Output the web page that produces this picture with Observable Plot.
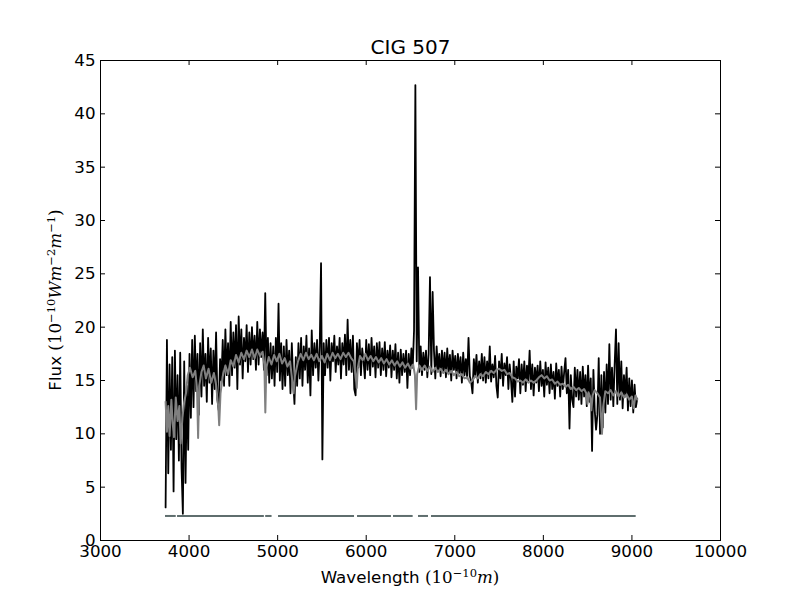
<!DOCTYPE html>
<html><head><meta charset="utf-8">
<script src="https://cdn.jsdelivr.net/npm/d3@7"></script>
<script src="https://cdn.jsdelivr.net/npm/@observablehq/plot@0.6"></script>
<style>body{margin:0;background:#fff} svg{display:block}</style>
</head><body><div id="chart"></div>
<script>
const title = "CIG 507";
const xTicks = [3000, 4000, 5000, 6000, 7000, 8000, 9000, 10000];
const yTicks = [0, 5, 10, 15, 20, 25, 30, 35, 40, 45];

// observed spectrum, sampled from 3735 Å every 15 Å
const specStart = 3735;
const specStep = 15;
const flux = [
  3.1, 18.8, 6.3, 16.5, 8.5, 17.2, 4.6, 17.8, 9.5, 15.5,
  7.5, 17.6, 6.8, 2.5, 16.8, 5.4, 14.5, 8.5, 17.5, 11.5,
  18.8, 12.5, 19.2, 14, 17.5, 11.8, 18.5, 13.5, 19.8, 14.5,
  17.5, 13, 19, 14.8, 18, 12.8, 17.8, 14.2, 19.5, 13.2,
  12.2, 17, 15, 18.8, 14.5, 19.8, 15.5, 18.5, 14.5, 20.5,
  15.5, 19.5, 16.2, 20.2, 14.2, 21, 16.5, 19.8, 15.2, 19,
  16.8, 20.2, 15.8, 19.5, 16.5, 20, 17, 19.2, 16, 20.5,
  16.5, 19.8, 17.2, 19.5, 16, 23.2, 15.5, 19, 14.8, 18.5,
  15.2, 18.2, 14.5, 19, 15.8, 22.2, 15, 18.5, 14.2, 18.2,
  14.5, 18.8, 15.5, 17.8, 13.8, 18.5, 15, 12.8, 17.2, 14.5,
  18.5, 15.2, 19, 14.5, 18.2, 16, 19.2, 14.8, 18, 13.6,
  19.7, 15.5, 18.5, 16.2, 18.8, 15, 18.2, 26, 7.6, 18.5,
  15.5, 18.8, 16.2, 19, 15, 18.5, 16.8, 19.2, 15.8, 18.2,
  16.5, 19, 15.2, 18.5, 16.5, 19.3, 15.5, 20.7, 16, 18.8,
  15.8, 19.2, 14.2, 13.6, 18.5, 16.2, 18.8, 15.5, 18, 16.8,
  15.2, 18.8, 16, 18.4, 15.5, 19, 16.3, 18.2, 15.3, 18.5,
  16.2, 18.6, 15.5, 18, 16, 18.6, 15.4, 17.8, 16.2, 18.3,
  15.3, 17.8, 16, 18.4, 15.2, 17.6, 14.8, 17.9, 15.5, 17.5,
  15.8, 17.8, 14.3, 17.5, 15.5, 18, 16.2, 19.7, 42.7, 16.8,
  25.6, 15.8, 18.2, 15.5, 17.6, 16, 17.8, 15.3, 17.5, 24.7,
  15.6, 23.3, 17.8, 15.2, 18.2, 16, 17.5, 15.4, 17.8, 15.8,
  17.6, 15.3, 18, 15.8, 17.4, 15, 17.8, 16, 17.3, 15.2,
  17.5, 15.7, 17.2, 14.8, 17.6, 15.5, 17, 15.2, 19, 15.4,
  14.9, 13.8, 17, 15.5, 17.4, 14.8, 16.8, 15.2, 17.5, 15,
  17.2, 14.8, 16.8, 15.2, 18.2, 14.9, 16.5, 15.3, 17.3, 14.5,
  13.4, 16.8, 15.2, 17.5, 14.5, 16.6, 15.5, 17.2, 14.2, 16.5,
  15, 13, 16.8, 13.5, 16.3, 15.2, 17, 13.8, 16.5, 14.6,
  16.8, 14, 16.4, 15, 17.8, 14.2, 16.5, 13.6, 16.2, 14.8,
  16.4, 14, 16.8, 14.5, 16, 13.5, 16.7, 14.6, 16.2, 13.8,
  16.5, 14.2, 15.8, 13.3, 16.6, 14.5, 16, 13.5, 16.3, 14.2,
  15.8, 17.1, 13.8, 16, 10.5, 15.5, 13.2, 12.5, 16.2, 13.5,
  16, 13.2, 15.8, 12.8, 16.3, 13.5, 15.5, 12.6, 16.4, 13,
  15.2, 8.4, 16, 12.2, 10.4, 11.8, 17.1, 10, 15.5, 10.6,
  15.8, 12, 16.5, 12.8, 18.4, 13.2, 16.2, 12.6, 16.5, 19.8,
  12.8, 18.5, 13.2, 16.8, 12.4, 15.5, 13.5, 16.2, 12.2, 15.2,
  12.6, 15, 12, 14.6, 12.5, 13.3
];

// fitted model spectrum
const modelWave = [
  3735, 3750, 3765, 3780, 3800, 3815, 3830, 3850, 3870, 3890, 3905, 3925, 3945, 3965, 3985,
  4010, 4040, 4070, 4090, 4102, 4115, 4140, 4165, 4190, 4220, 4250, 4280, 4305, 4330, 4340,
  4355, 4380, 4410, 4440, 4470, 4500, 4530, 4560, 4590, 4620, 4650, 4680, 4710, 4740, 4770,
  4800, 4830, 4850, 4861, 4872, 4900, 4930, 4960, 4990, 5020, 5050, 5080, 5110, 5140, 5165,
  5180, 5195, 5230, 5260, 5290, 5320, 5350, 5380, 5410, 5440, 5470, 5500, 5530, 5560, 5590,
  5620, 5650, 5680, 5710, 5740, 5770, 5800, 5830, 5860, 5880, 5893, 5905, 5930, 5960, 5990,
  6020, 6050, 6080, 6110, 6140, 6170, 6200, 6230, 6260, 6290, 6320, 6350, 6380, 6410, 6440,
  6470, 6500, 6530, 6550, 6563, 6575, 6600, 6630, 6660, 6690, 6720, 6750, 6780, 6810, 6840,
  6870, 6900, 6930, 6960, 6990, 7020, 7050, 7080, 7110, 7140, 7170, 7200, 7230, 7260, 7290,
  7320, 7350, 7380, 7410, 7440, 7470, 7500, 7530, 7560, 7590, 7620, 7650, 7680, 7710, 7740,
  7770, 7800, 7830, 7860, 7890, 7920, 7950, 7980, 8010, 8040, 8070, 8100, 8130, 8160, 8190,
  8220, 8250, 8280, 8310, 8340, 8370, 8400, 8430, 8460, 8485, 8498, 8510, 8528, 8542, 8556,
  8580, 8610, 8640, 8650, 8662, 8675, 8700, 8730, 8760, 8790, 8820, 8850, 8880, 8910, 8940,
  8970, 9000, 9020, 9040, 9060
];
const modelFlux = [
  13.0, 10.2, 12.6, 9.8, 13.2, 11.0, 9.7, 13.4, 11.2, 12.6, 9.1, 11.5, 13.0, 13.8, 15.5,
  16.2, 15.3, 15.9, 14.2, 9.6, 14.5, 15.8, 16.4, 15.2, 16.1, 14.8, 15.7, 14.6, 12.5, 10.8,
  13.8, 15.4, 16.4, 15.6, 16.9, 16.3, 17.4, 16.7, 17.6, 17.0, 17.8, 17.2, 17.9, 17.1, 17.9,
  17.3, 17.7, 16.5, 12.0, 16.2, 17.2, 16.5, 17.4, 16.8, 17.5, 16.6, 17.1, 16.3, 16.8, 15.0,
  13.8, 15.4, 16.8, 17.5, 16.9, 17.6, 17.0, 17.4, 16.9, 17.5, 16.8, 17.3, 16.7, 17.5, 16.9,
  17.6, 17.1, 17.5, 17.0, 17.6, 17.2, 17.6, 17.1, 16.8, 15.5, 14.3, 16.2, 17.3, 16.9, 17.5,
  16.9, 17.3, 16.8, 17.2, 16.7, 17.1, 16.6, 17.0, 16.5, 16.9, 16.4, 16.8, 16.3, 16.7, 16.2,
  16.6, 16.1, 16.5, 15.5, 12.3, 15.6, 16.4, 16.0, 16.4, 15.9, 16.3, 15.8, 16.2, 15.8, 16.1,
  15.7, 16.0, 15.6, 15.9, 15.5, 15.8, 15.4, 15.6, 15.2, 15.3, 14.8, 15.0, 15.4, 15.2, 15.6,
  15.4, 15.8, 15.6, 15.9, 15.7, 16.0, 16.1, 15.9, 16.0, 15.6, 15.7, 15.3, 15.2, 14.9, 15.0,
  14.8, 15.1, 14.8, 15.0, 14.8, 15.0, 15.3, 15.5, 15.2, 15.4, 15.0, 15.1, 14.7, 14.9, 14.6,
  14.7, 14.4, 14.6, 14.2, 14.4, 14.1, 14.3, 14.0, 14.2, 13.8, 12.8, 13.9, 13.5, 12.2, 13.6,
  14.1, 13.8, 13.4, 11.8, 10.0, 12.5, 14.0, 13.8, 14.1, 13.6, 14.0, 13.5, 13.9, 13.4, 13.7,
  13.2, 13.5, 12.4, 13.6, 13.2
];

// masked-region indicator (good-pixel segments)
const maskLevel = 2.3;
const maskSegments = [
  [3734, 3855], [3870, 4850], [4865, 4937], [5010, 5868],
  [5902, 6285], [6308, 6530], [6590, 6703], [6737, 9048]
];

const W = 800, H = 600, mL = 100, mR = 80, mT = 60, mB = 60;
const xDom = [3000, 10000], yDom = [0, 45];
const tickPx = 5;
const tx = tickPx * (xDom[1] - xDom[0]) / (W - mL - mR);
const ty = tickPx * (yDom[1] - yDom[0]) / (H - mT - mB);

const spec = flux.map((f, i) => ({w: specStart + i * specStep, f}));
const model = modelWave.map((w, i) => ({w, f: modelFlux[i]}));
const mask = maskSegments.map(([a, b]) => ({a, b, y: maskLevel}));

const svg = Plot.plot({
  width: W, height: H,
  marginLeft: mL, marginRight: mR, marginTop: mT, marginBottom: mB,
  style: {fontFamily: "DejaVu Sans", fontSize: "16.7px", background: "white", color: "black", overflow: "visible"},
  x: {domain: xDom},
  y: {domain: yDom},
  marks: [
    Plot.ruleY(mask, {x1: "a", x2: "b", y: "y", stroke: "#5f6e6e", strokeWidth: 2}),
    Plot.line(spec, {x: "w", y: "f", stroke: "black", strokeWidth: 1.8}),
    Plot.line(model, {x: "w", y: "f", stroke: "#808080", strokeWidth: 2}),
    Plot.ruleX(xTicks, {x: d => d, y1: yDom[0], y2: yDom[0] + ty, stroke: "black"}),
    Plot.ruleX(xTicks, {x: d => d, y1: yDom[1] - ty, y2: yDom[1], stroke: "black"}),
    Plot.ruleY(yTicks, {y: d => d, x1: xDom[0], x2: xDom[0] + tx, stroke: "black"}),
    Plot.ruleY(yTicks, {y: d => d, x1: xDom[1] - tx, x2: xDom[1], stroke: "black"}),
    Plot.axisX(xTicks, {anchor: "bottom", tickSize: 0, tickPadding: 5, label: null, tickFormat: d => String(d)}),
    Plot.axisY(yTicks, {anchor: "left", tickSize: 0, tickPadding: 5, label: null, tickFormat: d => String(d)}),
    Plot.frame({stroke: "black", strokeWidth: 1}),
    Plot.text([title], {frameAnchor: "top", lineAnchor: "bottom", dy: -7, fontSize: 20, fill: "black"})
  ]
});

function addLabel(x, y, rotate, segs) {
  const t = d3.select(svg).append("text")
    .attr("transform", `translate(${x},${y}) rotate(${rotate})`)
    .attr("text-anchor", "middle")
    .attr("fill", "black");
  let shift = 0;
  for (const s of segs) {
    const size = s.sup ? 11.5 : 16.7;
    const target = s.sup ? -6.5 : 0;
    t.append("tspan").text(s.t)
      .attr("font-family", s.serif ? "DejaVu Serif" : "DejaVu Sans")
      .attr("font-style", s.it ? "italic" : "normal")
      .attr("font-size", size)
      .attr("dy", target - shift);
    shift = target;
  }
}
addLabel(410, 583, 0, [
  {t: "Wavelength "}, {t: "(10", serif: true}, {t: "\u221210", serif: true, sup: true},
  {t: "m", serif: true, it: true}, {t: ")", serif: true}
]);
addLabel(61, 300, -90, [
  {t: "Flux "}, {t: "(10", serif: true}, {t: "\u221210", serif: true, sup: true},
  {t: "Wm", serif: true, it: true}, {t: "\u22122", serif: true, sup: true},
  {t: "m", serif: true, it: true}, {t: "\u22121", serif: true, sup: true},
  {t: ")", serif: true}
]);

document.getElementById("chart").appendChild(svg);
</script>
</body></html>
